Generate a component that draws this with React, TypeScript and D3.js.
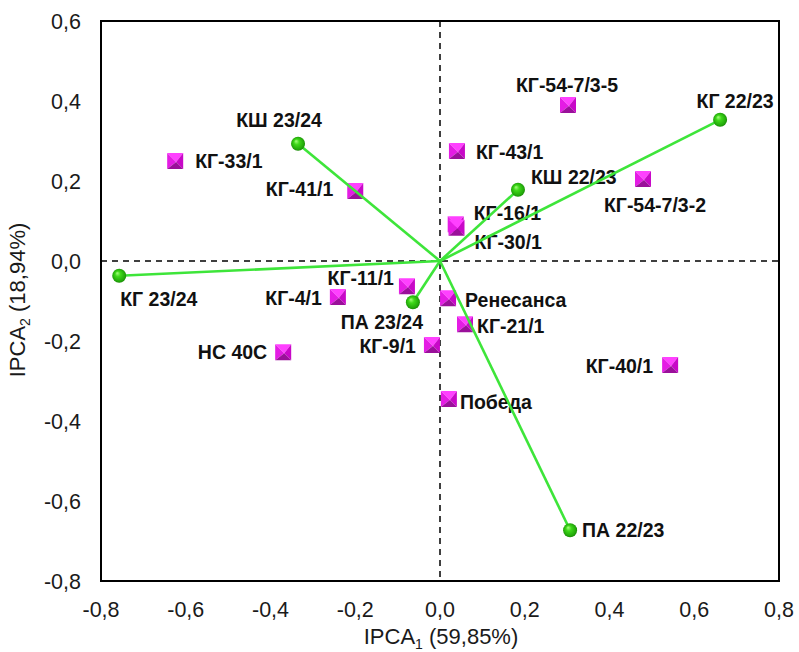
import React from 'react';
import * as d3 from 'd3';

// factor loadings (vectors from origin)
const vectorNames = ['КГ 23/24', 'КШ 23/24', 'КШ 22/23', 'КГ 22/23', 'ПА 23/24', 'ПА 22/23'];
const vectorX = [-0.757, -0.335, 0.184, 0.661, -0.064, 0.307];
const vectorY = [-0.037, 0.293, 0.178, 0.353, -0.103, -0.673];

// genotype scores
const pointNames = [
  'КГ-33/1', 'КГ-41/1', 'КГ-54-7/3-5', 'КГ-43/1', 'КГ-54-7/3-2', 'КГ-16/1', 'КГ-30/1',
  'КГ-11/1', 'КГ-4/1', 'Ренесанса', 'КГ-21/1', 'КГ-9/1', 'НС 40С', 'КГ-40/1', 'Победа',
];
const pointX = [-0.625, -0.2, 0.302, 0.04, 0.479, 0.037, 0.039, -0.078, -0.241, 0.019, 0.059, -0.019, -0.37, 0.543, 0.021];
const pointY = [0.25, 0.175, 0.39, 0.275, 0.205, 0.092, 0.083, -0.063, -0.09, -0.093, -0.158, -0.21, -0.228, -0.26, -0.345];

const xTicks = [-0.8, -0.6, -0.4, -0.2, 0, 0.2, 0.4, 0.6, 0.8];
const yTicks = [0.6, 0.4, 0.2, 0, -0.2, -0.4, -0.6, -0.8];

// label placement: [anchor, dx, dy]
const labelPos: Record<string, [string, number, number]> = {
  'КГ 23/24': ['start', 1, 23],
  'КШ 23/24': ['middle', -19, -24],
  'КШ 22/23': ['start', 13, -13],
  'КГ 22/23': ['middle', 15, -19],
  'ПА 23/24': ['middle', -31, 20],
  'ПА 22/23': ['start', 12, 0],
  'КГ-33/1': ['start', 20, 0],
  'КГ-41/1': ['end', -22, -2],
  'КГ-54-7/3-5': ['middle', -1, -20],
  'КГ-43/1': ['start', 19, 1],
  'КГ-54-7/3-2': ['middle', 12, 26],
  'КГ-16/1': ['start', 18, -11],
  'КГ-30/1': ['start', 18, 14],
  'КГ-11/1': ['end', -13, -8],
  'КГ-4/1': ['end', -16, 1],
  'Ренесанса': ['start', 17, 2],
  'КГ-21/1': ['start', 12, 2],
  'КГ-9/1': ['end', -16, 1],
  'НС 40С': ['end', -16, 0],
  'КГ-40/1': ['end', -17, 1],
  'Победа': ['start', 11, 3],
};

const W = 799;
const H = 652;
const left = 101, right = 779, top = 21, bottom = 581;
const font = '"Liberation Sans", Arial, sans-serif';
const fmt = (v: number) => d3.format('.1f')(v).replace('.', ',').replace('−', '-');

export default function App() {
  const x = d3.scaleLinear().domain([-0.8, 0.8]).range([left, right]);
  const y = d3.scaleLinear().domain([-0.8, 0.6]).range([bottom, top]);
  const s = 8;

  const label = (name: string, cx: number, cy: number) => {
    const [anchor, dx, dy] = labelPos[name];
    return (
      <text key={'l' + name} x={cx + dx} y={cy + dy} dy="0.35em" textAnchor={anchor}
        fontSize={19.5} fontWeight="bold" fill="#111">{name}</text>
    );
  };

  return (
    <svg width={W} height={H} style={{ position: 'absolute', left: 0, top: 0 }} fontFamily={font}>
      <defs>
        <radialGradient id="ball" cx="0.5" cy="0.5" r="0.55" fx="0.35" fy="0.3">
          <stop offset="0" stopColor="#a8ff80" />
          <stop offset="0.35" stopColor="#3fd81a" />
          <stop offset="0.8" stopColor="#22a80a" />
          <stop offset="1" stopColor="#167a05" />
        </radialGradient>
      </defs>
      <rect x={0} y={0} width={W} height={H} fill="#fff" />

      {/* zero lines */}
      <line x1={x(0)} x2={x(0)} y1={top} y2={bottom} stroke="#000" strokeWidth={1.5} strokeDasharray="6,5" />
      <line x1={left} x2={right} y1={y(0)} y2={y(0)} stroke="#000" strokeWidth={1.5} strokeDasharray="6,5" />

      {/* ticks */}
      {yTicks.map(t => (
        <text key={'y' + t} x={81} y={y(t)} dy="0.35em" textAnchor="end" fontSize={21.5} fill="#1a1a1a">{fmt(t)}</text>
      ))}
      {xTicks.map(t => (
        <text key={'x' + t} x={x(t)} y={609} dy="0.35em" textAnchor="middle" fontSize={21.5} fill="#1a1a1a">{fmt(t)}</text>
      ))}

      {/* axis titles */}
      <text x={441} y={644} textAnchor="middle" fontSize={22} fill="#1a1a1a">
        IPCA<tspan fontSize={14} dy={5}>1</tspan><tspan dy={-5}> (59,85%)</tspan>
      </text>
      <text transform={`translate(25,300) rotate(-90)`} textAnchor="middle" fontSize={22} fill="#1a1a1a">
        IPCA<tspan fontSize={14} dy={5}>2</tspan><tspan dy={-5}> (18,94%)</tspan>
      </text>

      {/* labels */}
      {pointNames.map((n, i) => label(n, x(pointX[i]), y(pointY[i])))}
      {vectorNames.map((n, i) => label(n, x(vectorX[i]), y(vectorY[i])))}

      {/* square markers */}
      {pointNames.map((n, i) => {
        const cx = x(pointX[i]);
        const cy = y(pointY[i]);
        const a = [cx - s, cy - s], b = [cx + s, cy - s], c = [cx + s, cy + s], d = [cx - s, cy + s];
        const p = [cx + 1, cy + 1];
        const tri = (q1: number[], q2: number[]) => `M${q1[0]},${q1[1]}L${q2[0]},${q2[1]}L${p[0]},${p[1]}Z`;
        return (
          <g key={'p' + n}>
            <path d={tri(a, b)} fill="#ff40ff" />
            <path d={tri(d, a)} fill="#e41ce4" />
            <path d={tri(b, c)} fill="#c808c8" />
            <path d={tri(c, d)} fill="#9a109a" />
          </g>
        );
      })}

      {/* vectors */}
      {vectorNames.map((n, i) => (
        <line key={'v' + n} x1={x(0)} y1={y(0)} x2={x(vectorX[i])} y2={y(vectorY[i])}
          stroke="#3ee53a" strokeWidth={2.6} />
      ))}
      {vectorNames.map((n, i) => (
        <circle key={'c' + n} cx={x(vectorX[i])} cy={y(vectorY[i])} r={7} fill="url(#ball)" />
      ))}

      {/* frame */}
      <rect x={left} y={top} width={right - left} height={bottom - top} fill="none" stroke="#000" strokeWidth={2} />
    </svg>
  );
}
